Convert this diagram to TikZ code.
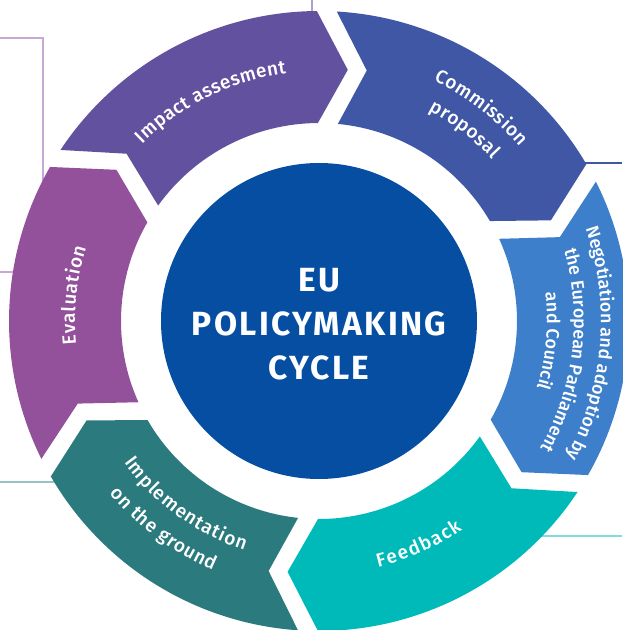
\documentclass[tikz,border=0pt]{standalone}
\usepackage{fontspec}
\setmainfont{Fira Sans}
\newfontfamily\titlefont[LetterSpace=7]{Fira Sans}
\newfontfamily\medfont{Fira Sans Medium}
\usetikzlibrary{calc,decorations.text}

\definecolor{cImpact}{RGB}{98,81,158}
\definecolor{cComm}{RGB}{63,87,165}
\definecolor{cNeg}{RGB}{61,127,203}
\definecolor{cFeed}{RGB}{0,186,186}
\definecolor{cImpl}{RGB}{43,122,125}
\definecolor{cEval}{RGB}{148,81,155}
\definecolor{cCore}{RGB}{5,78,162}
\definecolor{lnPurple}{RGB}{200,168,212}
\definecolor{lnLav}{RGB}{170,160,204}
\definecolor{lnBlue}{RGB}{63,87,165}
\definecolor{lnTeal}{RGB}{150,195,195}
\definecolor{lnCyan}{RGB}{130,220,220}

% ring segment: colour, start boundary angle, end boundary angle (clockwise)
\newcommand\ringseg[3]{%
  \fill[#1] ($(C)+({#2-1.29}:310pt)$) arc[start angle={#2-1.29}, end angle={#3+2.40}, radius=310pt]
    -- ($(C)+(#3:252pt)+({#3-90}:20pt)$)
    -- ($(C)+({#3+2.32}:198pt)$) arc[start angle={#3+2.32}, end angle={#2-3.47}, radius=198pt]
    -- ($(C)+(#2:252pt)+({#2-90}:39pt)$) -- cycle;}

\newcommand\lblfont{\medfont\fontsize{18}{20}\selectfont}
\newcommand\bigfont{\medfont\fontsize{19}{21}\selectfont}
% curved label: font, alignment, radius, start angle, end angle, text
\newcommand\curvedlabel[6]{%
  \path[decorate, decoration={text along path, text align=#2, text color=white,
      text={|#1|#6}}]
    ($(C)+(#4:#3pt)$) arc[start angle=#4, end angle=#5, radius=#3pt];}

\begin{document}
\begin{tikzpicture}[x=1pt,y=1pt,
  deco/.style={line width=1.8pt}]
\useasboundingbox (0,0) rectangle (622,630);
\coordinate (C) at (319,309);

% background decorative lines
\draw[deco, lnPurple, line width=1.6pt] (0,592) -- (43,592) -- (43,358) -- (0,358);
\draw[deco, lnLav, line width=1.6pt] (312,630) -- (312,600);
\draw[deco, lnBlue] (560,467) -- (622,467);
\draw[deco, lnTeal, line width=2.2pt] (0,148) -- (150,148);
\draw[deco, lnCyan, line width=2pt] (500,94) -- (622,94);

% ring segments
\ringseg{cImpact}{147.8}{88}
\ringseg{cComm}{88}{28}
\ringseg{cNeg}{28}{-32.2}
\ringseg{cFeed}{-32.2}{-92.6}
\ringseg{cImpl}{-92.6}{-152.3}
\ringseg{cEval}{-152.3}{-212.2}

% core circle
\fill[cCore] (C) circle[radius=158pt];
\node[text=white, font=\titlefont\bfseries\fontsize{33.5}{44}\selectfont, align=center] (title) at (319,306) {EU\\POLICYMAKING\\CYCLE};

% labels
\curvedlabel{\bigfont}{fit to path}{250}{135}{97.5}{Impact assesment}
\curvedlabel{\bigfont}{fit to path}{266}{64.5}{41}{Commission}
\curvedlabel{\bigfont}{fit to path}{237}{62.5}{43}{proposal}
\curvedlabel{\lblfont}{center}{282}{35.2}{-44.8}{Negotiation and adoption by}
\curvedlabel{\lblfont}{center}{255}{33.1}{-46.9}{the European Parliament}
\curvedlabel{\lblfont}{center}{228}{25}{-35}{and Council}
\curvedlabel{\bigfont}{fit to path}{253}{-76.5}{-55.5}{Feedback}
\curvedlabel{\bigfont}{fit to path}{241}{-144}{-108}{Implementation}
\curvedlabel{\bigfont}{fit to path}{271}{-140.5}{-113}{on the ground}
\curvedlabel{\bigfont}{fit to path}{244}{185.5}{162.5}{Evaluation}
\end{tikzpicture}
\end{document}
